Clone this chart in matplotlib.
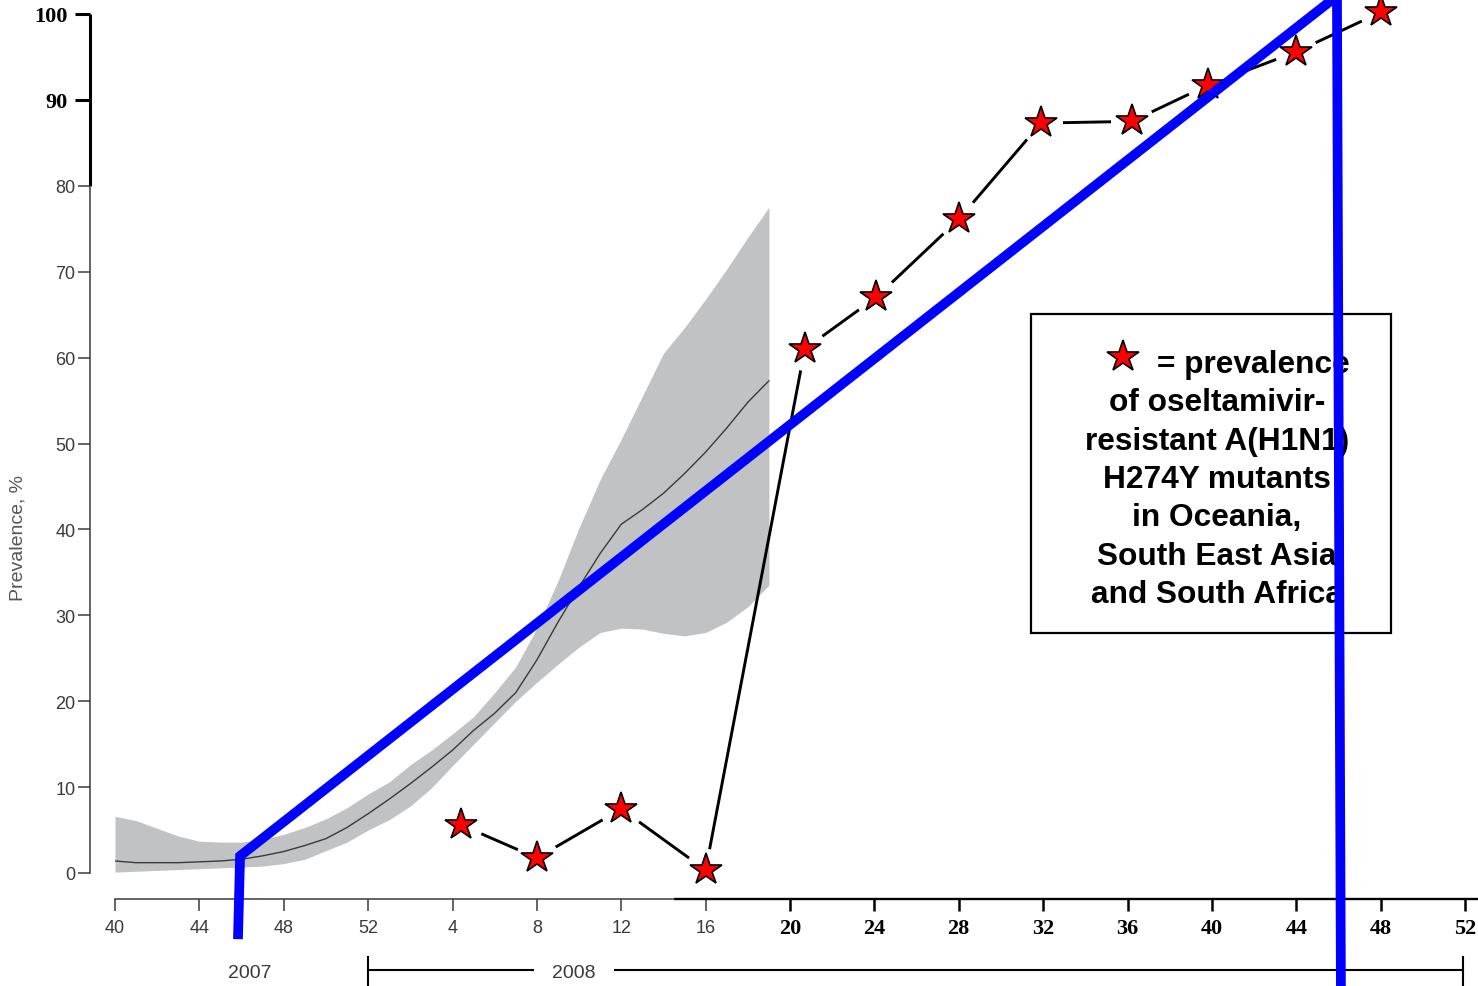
import numpy as np
import matplotlib
matplotlib.use("Agg")
import matplotlib.pyplot as plt
from matplotlib.patches import Rectangle
from matplotlib import transforms

# x axis: weeks counted from week 40 of 2007 (week 52/2007 -> 12, week 4/2008 -> 16 ...)
OFFSET_2008 = 12

# model curve with uncertainty band (weekly, week 40/2007 .. week 19/2008)
band_week = list(range(0, 32))
band_mid = [1.4, 1.2, 1.2, 1.2, 1.3, 1.4, 1.6, 2.0, 2.5, 3.2, 4.0, 5.3, 6.9, 8.6,
            10.4, 12.3, 14.3, 16.6, 18.6, 21.0, 24.8, 29.2, 33.3, 37.2, 40.6, 42.3,
            44.2, 46.5, 49.0, 51.8, 54.8, 57.3]
band_hi = [6.6, 6.1, 5.2, 4.3, 3.7, 3.6, 3.6, 3.9, 4.5, 5.3, 6.3, 7.6, 9.2, 10.6,
           12.6, 14.3, 16.2, 18.2, 21.0, 24.0, 28.5, 34.0, 40.2, 45.8, 50.5, 55.5,
           60.5, 63.5, 66.8, 70.3, 74.0, 77.5]
band_lo = [0.1, 0.2, 0.3, 0.4, 0.5, 0.6, 0.7, 0.8, 1.1, 1.6, 2.6, 3.6, 5.0, 6.2,
           7.8, 9.9, 12.5, 15.0, 17.5, 20.0, 22.2, 24.3, 26.3, 28.0, 28.5, 28.4,
           27.9, 27.6, 28.0, 29.2, 31.0, 33.5]

# observed prevalence (stars), week of 2008
star_week08 = [4.4, 8.0, 12.0, 16.0, 20.7, 24.1, 28.0, 31.9, 36.2, 39.8, 44.0, 48.0]
star_prev = [5.6, 1.75, 7.45, 0.35, 61.0, 67.05, 76.1, 87.3, 87.5, 91.7, 95.6, 100.2]

# blue overlay trace
blue_x = [5.83, 5.93, 57.93, 58.12]
blue_y = [-7.7, 1.98, 102.1, -15.0]

ytick_grey = [0, 10, 20, 30, 40, 50, 60, 70, 80]
ytick_bold = [90, 100]
xtick_grey = [0, 4, 8, 12, 16, 20, 24, 28]
xlab_grey = ['40', '44', '48', '52', '4', '8', '12', '16']
xtick_bold = [32, 36, 40, 44, 48, 52, 56, 60, 64]
xlab_bold = ['20', '24', '28', '32', '36', '40', '44', '48', '52']

legend_lines = ['of oseltamivir-', 'resistant A(H1N1)', 'H274Y mutants',
                'in Oceania,', 'South East Asia', 'and South Africa']

W, H = 1478, 987
fig = plt.figure(figsize=(W / 100, H / 100), dpi=100)
ax = fig.add_axes([115 / W, 113 / H, 1350 / W, 859 / H])
ax.set_xlim(0, 64)
ax.set_ylim(0, 100)

grey = '#3a3a3a'

ax.fill_between(band_week, band_lo, band_hi, color='#c1c2c4', lw=0, zorder=1)
ax.plot(band_week, band_mid, color='#3a3a3a', lw=1.0, zorder=2)

sx = np.array(star_week08) + OFFSET_2008
ax.plot(sx, star_prev, color='black', lw=2.1, zorder=3, clip_on=False)
ax.plot(sx, star_prev, 'o', ms=31, mfc='white', mec='none', zorder=3.5, clip_on=False)
ax.plot(sx, star_prev, '*', ms=24, mfc='#ff0000', mec='black', mew=1.2,
        zorder=4, clip_on=False)

# spines
for s in ['top', 'right']:
    ax.spines[s].set_visible(False)
ax.spines['left'].set_position(('outward', 18))
ax.spines['bottom'].set_position(('outward', 18.7))
ax.spines['left'].set_bounds(0, 80)
ax.spines['bottom'].set_bounds(0, 26.5)
for s in ['left', 'bottom']:
    ax.spines[s].set_color(grey)
    ax.spines[s].set_linewidth(1.1)

ax_x_left = -25 / 1350
ax_y_bot = -26 / 859
ty = transforms.blended_transform_factory(ax.transAxes, ax.transData)
tx = transforms.blended_transform_factory(ax.transData, ax.transAxes)
ax.plot([ax_x_left, ax_x_left], [80, 100], color='black', lw=2.2,
        transform=ty, clip_on=False, solid_capstyle='butt')
ax.plot([26.5, 64.6], [ax_y_bot, ax_y_bot], color='black', lw=1.7,
        transform=tx, clip_on=False, solid_capstyle='butt')

# ticks
ax.set_yticks(ytick_grey, [str(v) for v in ytick_grey])
ax.set_yticks(ytick_bold, [str(v) for v in ytick_bold], minor=True)
ax.set_xticks(xtick_grey, xlab_grey)
ax.set_xticks(xtick_bold, xlab_bold, minor=True)

ax.tick_params(axis='y', which='major', length=8.6, width=1.1, color=grey,
               labelsize=13, labelcolor=grey, pad=2, labelfontfamily='Liberation Sans')
ax.tick_params(axis='y', which='minor', length=11, width=2.2, color='black',
               labelsize=16, labelcolor='black', pad=5, labelfontfamily='Liberation Serif')
ax.tick_params(axis='x', which='major', length=8.6, width=1.1, color=grey,
               labelsize=13, labelcolor=grey, pad=6, labelfontfamily='Liberation Sans')
ax.tick_params(axis='x', which='minor', length=8.6, width=1.8, color='black',
               labelsize=16, labelcolor='black', pad=5, labelfontfamily='Liberation Serif')
for lab in ax.get_yticklabels(minor=True) + ax.get_xticklabels(minor=True):
    lab.set_fontweight('bold')

fig.text(18 / W, 1 - 538 / H, 'Prevalence, %', rotation=90, ha='center', va='center',
         color='#555555', fontsize=14, family='Liberation Sans')

# year bracket under the axis
yr_y = (874 - 971) / 8.59
ax.plot([OFFSET_2008, 63.9], [yr_y, yr_y], color='black', lw=1.5, clip_on=False)
for xe in [OFFSET_2008, 63.9]:
    ax.plot([xe, xe], [yr_y + 1.5, yr_y - 2.0], color='black', lw=1.5, clip_on=False)
ax.text(6.4, -11.6, '2007', ha='center', va='center', fontsize=14,
        color=grey, family='Liberation Sans')
ax.text(21.76, -11.6, '2008', ha='center', va='center', fontsize=14,
        color=grey, family='Liberation Sans', zorder=4,
        bbox=dict(fc='white', ec='none', pad=13))

# legend box
ax.add_patch(Rectangle((0.6785, 0.2794), 0.2667, 0.3714, transform=ax.transAxes,
                       fc='white', ec='black', lw=1.6, zorder=5, clip_on=False))
ax.plot([0.7467], [0.6007], '*', ms=24, mfc='#ff0000', mec='black', mew=1.2,
        transform=ax.transAxes, zorder=6, clip_on=False)
tfont = dict(fontsize=22.8, fontweight='bold', family='Liberation Sans', color='black')
ax.text(0.7719, 0.5832, '= prevalence', ha='left', va='baseline',
        transform=ax.transAxes, zorder=6, **tfont)
for i, line in enumerate(legend_lines):
    ax.text(0.8161, 0.5832 - (i + 1) * 0.04459, line, ha='center', va='baseline',
            transform=ax.transAxes, zorder=6, **tfont)

ax.plot(blue_x, blue_y, color='#0000ff', lw=7, zorder=10, clip_on=False,
        solid_capstyle='butt', solid_joinstyle='miter')

fig.savefig('out.png', dpi=100)
